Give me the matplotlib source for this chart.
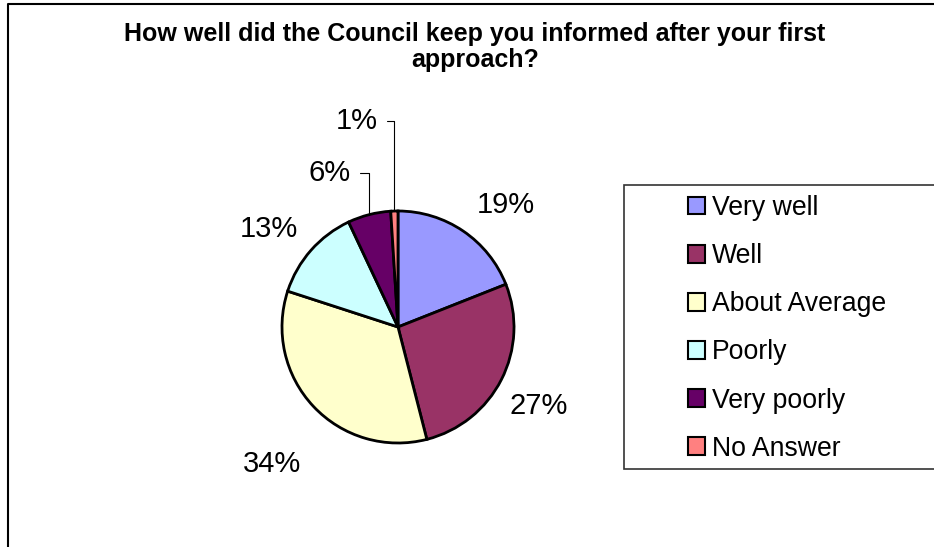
import numpy as np
import matplotlib.pyplot as plt
from matplotlib.lines import Line2D
from matplotlib.patches import Rectangle

categories = ['Very well', 'Well', 'About Average', 'Poorly', 'Very poorly', 'No Answer']
percents = [19, 27, 34, 13, 6, 1]
colors = ['#9999FF', '#993366', '#FFFFCC', '#CCFFFF', '#660066', '#FF8080']
title = 'How well did the Council keep you informed after your first\napproach?'

plt.rcParams['font.family'] = ['Liberation Sans', 'DejaVu Sans']

W, H = 934, 547
fig = plt.figure(figsize=(W / 100, H / 100), dpi=100)

# chart area border (only left + top edges are inside the picture)
fig.add_artist(Line2D([8 / W, 8 / W, 1], [0, 1 - 4 / H, 1 - 4 / H], color='black', lw=1.5))

fig.text(475 / W, 1 - 47 / H, title, ha='center', va='center',
         fontsize=18, fontweight='bold', linespacing=1.15)

cx, cy, r = 398, 327, 116
ax = fig.add_axes([(cx - r) / W, (H - cy - r) / H, 2 * r / W, 2 * r / H])
wedges, _ = ax.pie(percents, colors=colors, startangle=90, counterclock=False,
                   wedgeprops=dict(edgecolor='black', linewidth=2))
for w in wedges:
    w.set_clip_on(False)
ax.set_xlim(-1, 1)
ax.set_ylim(-1, 1)
ax.set_aspect('equal')
ax.axis('off')

# label layout: (radius factor, angle nudge) for the big slices,
# leader-line offsets (px) for the two small slices
label_r = [1.40, 1.39, 1.60, 1.40]
label_nudge = [-7.3, -2.3, 4.2, 4.2]
leader_off = [(-19, 42), (-17, 90)]

for i, w in enumerate(wedges):
    mid = np.deg2rad((w.theta1 + w.theta2) / 2)
    txt = '%d%%' % percents[i]
    if i < 4:
        a = mid + np.deg2rad(label_nudge[i])
        ax.text(label_r[i] * np.cos(a), label_r[i] * np.sin(a), txt,
                ha='center', va='center', fontsize=21, clip_on=False)
    else:
        dx, dy = leader_off[i - 4]
        ax.annotate(txt, xy=(np.cos(mid), np.sin(mid)),
                    xytext=(dx * 0.72, dy * 0.72), textcoords='offset points',
                    ha='right', va='center', fontsize=21,
                    arrowprops=dict(arrowstyle='-', color='black', lw=0.8,
                                    connectionstyle='angle,angleA=0,angleB=90,rad=0',
                                    relpos=(1, 0.5), shrinkA=5, shrinkB=0))

# legend box runs off the right edge of the picture, entries centred in it
fig.add_artist(Rectangle((624 / W, 1 - 469 / H), 340 / W, 284 / H, transform=fig.transFigure,
                         facecolor='white', edgecolor='#333333', lw=1.2, zorder=1))
leg = fig.legend(wedges, categories, loc='upper left',
                 bbox_to_anchor=(688 / W, 1 - 195 / H), fontsize=19.2,
                 frameon=False, handlelength=0.64, handleheight=0.64,
                 handletextpad=0.26, labelspacing=0.83, borderpad=0, borderaxespad=0)
leg.set_zorder(2)
for h in leg.legend_handles:
    h.set_linewidth(1.5)
    h.set_edgecolor('black')

fig.savefig('out.png', dpi=100)
